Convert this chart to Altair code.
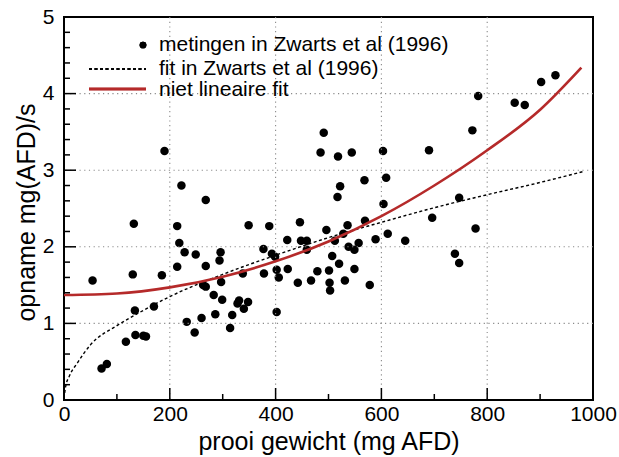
import altair as alt
import pandas as pd

# measurements (prey weight mg AFD, intake mg(AFD)/s)
meting_x = [190, 222, 268, 132, 214, 218, 228, 249, 296, 294, 214, 268, 130, 185, 54,
            263, 268, 297, 283, 299, 328, 170, 134, 286, 318, 260, 232, 314, 247, 135,
            150, 155, 117, 71, 81,
            349, 388, 446, 422, 448, 459, 459, 377, 393, 399, 402, 423, 378, 406, 338,
            442, 467, 479, 501, 520, 507, 502, 503, 531, 549, 578, 538, 549, 557, 512,
            528, 496, 536, 569, 589, 612, 604, 517, 522, 568, 609, 331, 340, 348, 402,
            852, 871, 772, 690, 603, 747, 696, 778, 645, 739, 747,
            491, 485, 518, 544, 783, 902, 929]
meting_y = [3.25, 2.80, 2.61, 2.30, 2.27, 2.05, 1.93, 1.90, 1.93, 1.82, 1.74, 1.75, 1.64, 1.63, 1.56,
            1.50, 1.48, 1.54, 1.37, 1.31, 1.26, 1.22, 1.17, 1.12, 1.11, 1.07, 1.02, 0.94, 0.88, 0.85,
            0.84, 0.83, 0.76, 0.41, 0.47,
            2.28, 2.27, 2.32, 2.09, 2.08, 2.08, 1.96, 1.97, 1.91, 1.87, 1.70, 1.71, 1.65, 1.60, 1.65,
            1.53, 1.56, 1.68, 1.69, 1.78, 1.88, 1.53, 1.43, 1.56, 1.71, 1.50, 2.00, 1.96, 2.05, 2.08,
            2.17, 2.22, 2.28, 2.34, 2.10, 2.17, 2.56, 2.65, 2.79, 2.87, 2.90, 1.30, 1.19, 1.28, 1.15,
            3.88, 3.85, 3.52, 3.26, 3.25, 2.64, 2.38, 2.24, 2.08, 1.91, 1.79,
            3.49, 3.23, 3.18, 3.23, 3.97, 4.15, 4.24]

# fit in Zwarts et al (1996)
zwarts_x = [0, 3, 10, 25, 50, 100, 150, 200, 300, 400, 500, 600, 700, 800, 900, 980]
zwarts_y = [0.02, 0.17, 0.31, 0.48, 0.72, 0.97, 1.17, 1.35, 1.64, 1.89, 2.12, 2.32, 2.51, 2.68, 2.84, 2.98]

# niet lineaire fit
nl_x = [0, 100, 200, 300, 400, 500, 600, 700, 800, 900, 978]
nl_y = [1.37, 1.39, 1.47, 1.61, 1.81, 2.07, 2.40, 2.80, 3.26, 3.79, 4.34]

x_major = [0, 200, 400, 600, 800, 1000]
x_minor = [100, 300, 500, 700, 900]
y_major = [0, 1, 2, 3, 4, 5]
y_minor = [0.2, 0.4, 0.6, 0.8, 1.2, 1.4, 1.6, 1.8, 2.2, 2.4, 2.6, 2.8,
           3.2, 3.4, 3.6, 3.8, 4.2, 4.4, 4.6, 4.8]
x_grid = [200, 400, 600, 800]
y_grid = [1, 2, 3, 4]

legend_labels = ["metingen in Zwarts et al (1996)", "fit in Zwarts et al (1996)", "niet lineaire fit"]

W, H = 529, 383
RED = "#b52a2a"
FONT = "Liberation Sans"
COMMON = dict(grid=False, ticks=False, tickSize=0, domain=False, labelFontSize=21, labelFont=FONT,
              labelColor="black", labelFlush=False, labelOverlap=False, format="d",
              titleFont=FONT, titleFontSize=25, titleFontWeight="normal", titleColor="black",
              titleBaseline="middle", titleAlign="center")

xs = alt.Scale(domain=[0, 1000], nice=False, zero=False)
ys = alt.Scale(domain=[0, 5], nice=False, zero=False)

axis_x = alt.Axis(values=x_major, labelPadding=3, title="prooi gewicht (mg AFD)",
                  titleX=264.5, titleY=41, **COMMON)
axis_y = alt.Axis(values=y_major, labelPadding=10, title="opname mg(AFD)/s", titleAngle=270,
                  titleX=-38, titleY=195, **COMMON)

df_pts = pd.DataFrame({"x": meting_x, "y": meting_y})
df_zw = pd.DataFrame({"x": zwarts_x, "y": zwarts_y})
df_nl = pd.DataFrame({"x": nl_x, "y": nl_y})

# dotted grid
gx = alt.Chart(pd.DataFrame({"x": x_grid})).mark_rule(
    color="#8a8a8a", strokeDash=[1.2, 3.5], strokeWidth=1.1).encode(
    x=alt.X("x:Q", scale=xs))
gy = alt.Chart(pd.DataFrame({"y": y_grid})).mark_rule(
    color="#8a8a8a", strokeDash=[1.2, 3.5], strokeWidth=1.1).encode(
    y=alt.Y("y:Q", scale=ys))

pts = alt.Chart(df_pts).mark_circle(size=72, color="black", opacity=1).encode(
    x=alt.X("x:Q", scale=xs, axis=axis_x),
    y=alt.Y("y:Q", scale=ys, axis=axis_y),
)
zw = alt.Chart(df_zw).mark_line(color="black", strokeDash=[3, 2.5], strokeWidth=1.4,
                                 interpolate="monotone").encode(
    x=alt.X("x:Q", scale=xs),
    y=alt.Y("y:Q", scale=ys),
)
nl = alt.Chart(df_nl).mark_line(color=RED, strokeWidth=2.6, interpolate="monotone").encode(
    x=alt.X("x:Q", scale=xs),
    y=alt.Y("y:Q", scale=ys),
)

# inward ticks
xt_major = alt.Chart(pd.DataFrame({"x": x_major})).mark_rule(color="black", strokeWidth=1.5).encode(
    x=alt.X("x:Q", scale=xs), y=alt.value(H), y2=alt.value(H - 12))
xt_minor = alt.Chart(pd.DataFrame({"x": x_minor})).mark_rule(color="black", strokeWidth=1.5).encode(
    x=alt.X("x:Q", scale=xs), y=alt.value(H), y2=alt.value(H - 6))
yt_major = alt.Chart(pd.DataFrame({"y": y_major})).mark_rule(color="black", strokeWidth=1.5).encode(
    y=alt.Y("y:Q", scale=ys), x=alt.value(0), x2=alt.value(12))
yt_minor = alt.Chart(pd.DataFrame({"y": y_minor})).mark_rule(color="black", strokeWidth=1.5).encode(
    y=alt.Y("y:Q", scale=ys), x=alt.value(0), x2=alt.value(6))

# manual legend
leg_df = pd.DataFrame({"label": legend_labels})
leg_dot = alt.Chart(leg_df).mark_circle(size=45, color="black", opacity=1).encode(
    x=alt.value(79), y=alt.value(28))
leg_dash = alt.Chart(leg_df).mark_rule(color="black", strokeDash=[3, 2.5], strokeWidth=1.4).encode(
    x=alt.value(25), x2=alt.value(82), y=alt.value(52))
leg_red = alt.Chart(leg_df).mark_rule(color=RED, strokeWidth=2.6).encode(
    x=alt.value(25), x2=alt.value(82), y=alt.value(72))


def leg_text(i, ypos):
    return alt.Chart(leg_df).transform_filter(
        alt.datum.label == legend_labels[i]
    ).mark_text(align="left", baseline="middle", fontSize=21, font=FONT, color="black").encode(
        x=alt.value(95), y=alt.value(ypos), text="label:N")


chart = alt.layer(
    pts, gx, gy, zw, nl, xt_major, xt_minor, yt_major, yt_minor,
    leg_dot, leg_dash, leg_red, leg_text(0, 28), leg_text(1, 52), leg_text(2, 73),
).properties(
    width=W, height=H,
    padding={"left": 64, "top": 17, "right": 26, "bottom": 57},
    autosize=alt.AutoSizeParams(type="none"),
).configure(
    background="white",
    view=alt.ViewConfig(stroke="black", strokeWidth=2),
)

chart.save("out.html", embed_options={"renderer": "svg", "actions": False})
